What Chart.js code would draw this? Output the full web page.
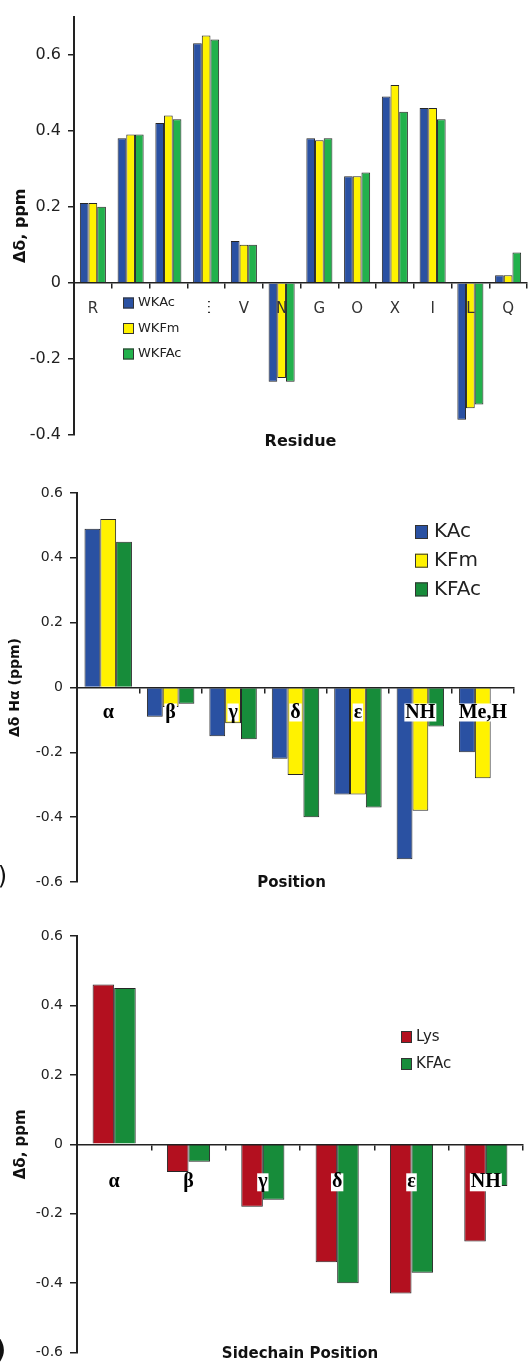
<!DOCTYPE html>
<html>
<head>
<meta charset="utf-8">
<script src="https://cdn.jsdelivr.net/npm/chart.js@4.4.1/dist/chart.umd.min.js"></script>
<style>
  body { margin: 0; background: #fff; }
  .panel { position: absolute; left: 0; }
  canvas { display: block; }
</style>
</head>
<body>
<div class="panel" style="top:0"><canvas id="residueChart" width="530" height="460"></canvas></div>
<div class="panel" style="top:470px"><canvas id="positionChart" width="530" height="430"></canvas></div>
<div class="panel" style="top:920px"><canvas id="sidechainChart" width="530" height="448"></canvas></div>
<script>
// panel 1 - residues
const residues = ['R','W','T','E','V','N','G','O','X','I','L','Q'];
const wkAc  = [0.21, 0.38, 0.42, 0.63, 0.11, -0.26, 0.38, 0.28, 0.49, 0.46, -0.36, 0.02];
const wkFm  = [0.21, 0.39, 0.44, 0.65, 0.10, -0.25, 0.375, 0.28, 0.52, 0.46, -0.33, 0.02];
const wkFAc = [0.20, 0.39, 0.43, 0.64, 0.10, -0.26, 0.38, 0.29, 0.45, 0.43, -0.32, 0.08];

// panel 2 - position
const positions = ['α','β','γ','δ','ε','NH','Me,H'];
const kAc  = [0.49, -0.09, -0.15, -0.22, -0.33, -0.53, -0.20];
const kFm  = [0.52, -0.06, -0.11, -0.27, -0.33, -0.38, -0.28];
const kFAc = [0.45, -0.05, -0.16, -0.40, -0.37, -0.12, null];

// panel 3 - sidechain position
const sidechain = ['α','β','γ','δ','ε','NH'];
const lys      = [0.46, -0.08, -0.18, -0.34, -0.43, -0.28];
const kFAcSide = [0.45, -0.05, -0.16, -0.40, -0.37, -0.12];

const BLUE = '#2a51a2', YELLOW = '#fff200', GREEN_LT = '#22b14c', GREEN = '#178c3a', RED = '#b3101f';

// legend drawn inside the plot, with an optional white patch behind it
const insetLegend = {
    id: 'insetLegend',
    afterDraw(chart, args, o) {
        const ctx = chart.ctx;
        ctx.save();
        if (o.bg) { ctx.fillStyle = '#fff'; ctx.fillRect(o.bg.x, o.bg.y, o.bg.w, o.bg.h); }
        ctx.font = o.font;
        ctx.textBaseline = 'middle';
        ctx.textAlign = 'left';
        chart.data.datasets.forEach((ds, i) => {
            const y = o.y + i * o.rowH;
            ctx.fillStyle = ds.backgroundColor;
            ctx.fillRect(o.x, y - o.boxH/2, o.boxW, o.boxH);
            ctx.strokeStyle = '#333'; ctx.lineWidth = 1;
            ctx.strokeRect(o.x + 0.5, y - o.boxH/2 + 0.5, o.boxW - 1, o.boxH - 1);
            ctx.fillStyle = o.color;
            ctx.fillText(ds.label, o.x + o.boxW + o.gap, y);
        });
        ctx.restore();
    }
};

// axis title under the plot + panel letter
const extraText = {
    id: 'extraText',
    afterDraw(chart, args, o) {
        const {ctx, chartArea} = chart;
        ctx.save();
        ctx.textBaseline = 'middle';
        (o.items || []).forEach(it => {
            ctx.font = it.font;
            ctx.fillStyle = it.color || '#111';
            ctx.textAlign = it.align || 'center';
            const x = it.x === 'center' ? (chartArea.left + chartArea.right)/2 + (it.dx || 0) : it.x;
            const y = it.below != null ? chartArea.bottom + it.below : it.y;
            ctx.fillText(it.text, x, y);
        });
        ctx.restore();
    }
};

function makeChart(id, c) {
    return new Chart(document.getElementById(id), {
        type: 'bar',
        data: { labels: c.labels, datasets: c.datasets },
        options: {
            responsive: false,
            animation: false,
            layout: { padding: c.padding },
            datasets: { bar: { categoryPercentage: c.catPct, barPercentage: 1, borderWidth: 1, borderColor: '#262626', borderSkipped: 'start' } },
            plugins: {
                legend: { display: false },
                tooltip: { enabled: false },
                title: { display: false },
                insetLegend: c.legend,
                extraText: { items: c.texts }
            },
            scales: {
                x: {
                    position: { y: 0 },
                    offset: true,
                    grid: { display: true, drawOnChartArea: false, offset: true, tickLength: 5, color: '#222', lineWidth: 1.5 },
                    border: { display: true, color: '#222', width: 1.5, z: 1 },
                    ticks: Object.assign({ maxRotation: 0, autoSkip: false, z: 1 }, c.xTicks)
                },
                y: {
                    min: c.yMin, max: c.yMax,
                    afterFit: s => { s.width = c.yWidth; },
                    grid: { display: true, drawOnChartArea: false, tickLength: c.yTick, color: '#222', lineWidth: 1.5 },
                    border: { display: true, color: '#222', width: 2 },
                    ticks: { stepSize: 0.2, includeBounds: false, padding: 7, color: '#222', font: c.yFont },
                    title: { display: true, text: c.yTitle, color: '#111', font: c.yTitleFont, padding: { top: c.yTitlePad, bottom: 0 } }
                }
            }
        },
        plugins: [insetLegend, extraText]
    });
}

makeChart('residueChart', {
    labels: residues,
    datasets: [
        { label: 'WKAc', data: wkAc, backgroundColor: BLUE },
        { label: 'WKFm', data: wkFm, backgroundColor: YELLOW },
        { label: 'WKFAc', data: wkFAc, backgroundColor: GREEN_LT }
    ],
    catPct: 0.69,
    padding: { top: 15, bottom: 25, left: 0, right: 3 },
    yMin: -0.4, yMax: 0.7, yWidth: 74, yTick: 6,
    yFont: { family: 'DejaVu Sans', size: 16 },
    yTitle: 'Δδ, ppm', yTitleFont: { family: 'DejaVu Sans', size: 16, weight: 'bold' }, yTitlePad: 11,
    xTicks: { padding: 12, color: '#333', font: { family: 'DejaVu Sans', size: 15 } },
    legend: { x: 123, y: 303, rowH: 25.5, boxW: 11, boxH: 11, gap: 4, font: '13px "DejaVu Sans"', color: '#222',
              bg: { x: 116, y: 291, w: 92, h: 75 } },
    texts: [ { text: 'Residue', x: 'center', below: 7, font: 'bold 16px "DejaVu Sans"' } ]
});

makeChart('positionChart', {
    labels: positions,
    datasets: [
        { label: 'KAc', data: kAc, backgroundColor: BLUE },
        { label: 'KFm', data: kFm, backgroundColor: YELLOW },
        { label: 'KFAc', data: kFAc, backgroundColor: GREEN }
    ],
    catPct: 0.76,
    padding: { top: 23, bottom: 18, left: 0, right: 16 },
    yMin: -0.6, yMax: 0.6, yWidth: 77, yTick: 7,
    yFont: { family: 'DejaVu Sans', size: 14 },
    yTitle: 'Δδ Hα (ppm)', yTitleFont: { family: 'DejaVu Sans', size: 14, weight: 'bold' }, yTitlePad: 7,
    xTicks: { padding: 11, color: '#000', font: { family: 'Liberation Serif', size: 20, weight: 'bold', lineHeight: 0.9 },
              showLabelBackdrop: true, backdropColor: '#fff', backdropPadding: { x: 1, y: 0 } },
    legend: { x: 415, y: 62, rowH: 28.7, boxW: 13, boxH: 14, gap: 6, font: '20px "DejaVu Sans"', color: '#222' },
    texts: [
        { text: 'Position', x: 'center', dx: -4, below: 1.5, font: 'bold 15px "DejaVu Sans"' },
        { text: '(b)', x: 7, y: 408, align: 'right', font: '24px "DejaVu Sans"' }
    ]
});

makeChart('sidechainChart', {
    labels: sidechain,
    datasets: [
        { label: 'Lys', data: lys, backgroundColor: RED },
        { label: 'KFAc', data: kFAcSide, backgroundColor: GREEN }
    ],
    catPct: 0.58,
    padding: { top: 16, bottom: 15, left: 0, right: 7 },
    yMin: -0.6, yMax: 0.6, yWidth: 77, yTick: 7,
    yFont: { family: 'DejaVu Sans', size: 14 },
    yTitle: 'Δδ, ppm', yTitleFont: { family: 'DejaVu Sans', size: 15, weight: 'bold' }, yTitlePad: 12,
    xTicks: { padding: 24, color: '#000', font: { family: 'Liberation Serif', size: 20, weight: 'bold', lineHeight: 0.9 },
              showLabelBackdrop: true, backdropColor: '#fff', backdropPadding: { x: 1, y: 0 } },
    legend: { x: 401, y: 117, rowH: 27, boxW: 11, boxH: 12, gap: 4, font: '15px "DejaVu Sans"', color: '#222' },
    texts: [
        { text: 'Sidechain Position', x: 'center', below: 2, font: 'bold 15px "DejaVu Sans"' },
        { text: '(c)', x: 6, y: 432, align: 'right', font: 'bold 24px "DejaVu Sans"' }
    ]
});
</script>
</body>
</html>
